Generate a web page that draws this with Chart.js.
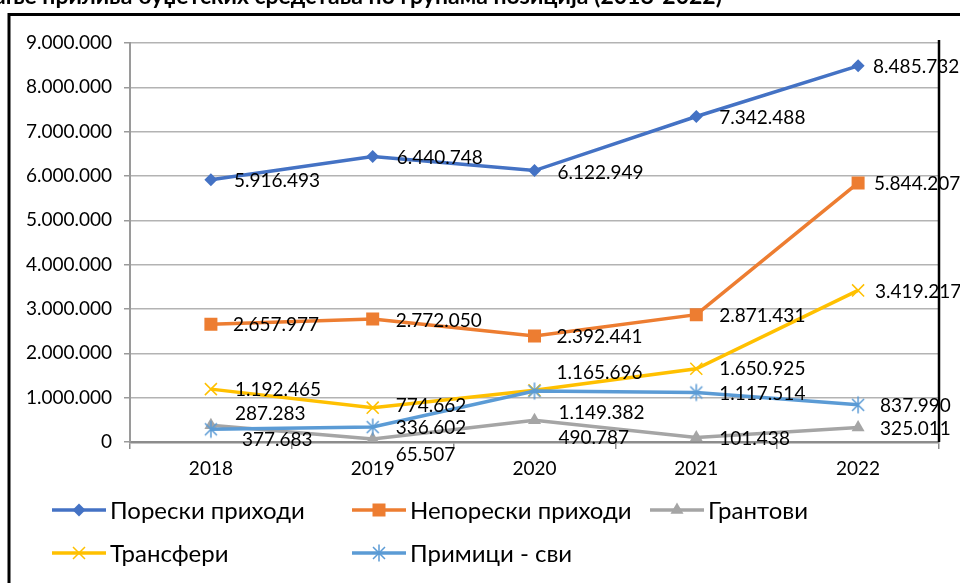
<!DOCTYPE html>
<html lang="sr">
<head>
    <meta charset="UTF-8">
    <title>Кретање прилива буџетских средстава</title>
    <script src="https://cdn.jsdelivr.net/npm/chart.js"></script>
    <style>
        html, body {
            margin: 0;
            padding: 0;
            background: #ffffff;
            overflow: hidden;
        }
        .wrap {
            position: relative;
            width: 960px;
            height: 583px;
        }
    </style>
</head>
<body>
    <div class="wrap">
        <canvas id="trendChart"></canvas>
    </div>
    <script>
        // data
        const years = ['2018', '2019', '2020', '2021', '2022'];
        const seriesNames = ['Порески приходи', 'Непорески приходи', 'Грантови', 'Трансфери', 'Примици - сви'];
        const poreski = [5916493, 6440748, 6122949, 7342488, 8485732];
        const neporeski = [2657977, 2772050, 2392441, 2871431, 5844207];
        const grantovi = [377683, 65507, 490787, 101438, 325011];
        const transferi = [1192465, 774662, 1165696, 1650925, 3419217];
        const primici = [287283, 336602, 1149382, 1117514, 837990];
        const yMin = 0;
        const yMax = 9000000;
        const yStep = 1000000;
        const titleText = 'Кретање прилива буџетских средстава по групама позиција (2018-2022)';

        const FONT = 'Lato, "Noto Sans", sans-serif';
        const colors = ['#4472C4', '#ED7D31', '#A5A5A5', '#FFC000', '#5B9BD5'];

        // where each value label sits relative to its point (dx, dy)
        const labelOffsets = [
            [[23, 1], [24, 1], [23, 2], [23, 1], [15, 1]],
            [[22, 1], [23, 2], [22, 1], [23, 1], [16, 1]],
            [[31, 15], [23, 16], [24, 18], [23, 1], [22, 1]],
            [[24, 1], [23, -2], [22, -17], [23, 0], [17, 1]],
            [[24, -15], [23, 1], [24, 22], [23, 1], [22, 1]]
        ];

        function fmt(v) {
            return String(v).replace(/\B(?=(\d{3})+(?!\d))/g, '.');
        }

        // Excel-like star marker: X plus vertical bar
        function starImage(color) {
            const c = document.createElement('canvas');
            c.width = 20; c.height = 20;
            const g = c.getContext('2d');
            g.strokeStyle = color;
            g.lineWidth = 1.5;
            g.beginPath();
            g.moveTo(4, 4); g.lineTo(16, 16);
            g.moveTo(16, 4); g.lineTo(4, 16);
            g.moveTo(10, 1.5); g.lineTo(10, 18.5);
            g.stroke();
            return c;
        }
        const star = starImage(colors[4]);

        function drawMarker(ctx, idx, x, y) {
            const col = colors[idx];
            ctx.save();
            ctx.fillStyle = col;
            ctx.strokeStyle = col;
            ctx.beginPath();
            if (idx === 0) {
                ctx.moveTo(x, y - 6.5); ctx.lineTo(x + 6.5, y); ctx.lineTo(x, y + 6.5); ctx.lineTo(x - 6.5, y);
                ctx.closePath(); ctx.fill();
            } else if (idx === 1) {
                ctx.rect(x - 6.5, y - 6.5, 13, 13); ctx.fill();
            } else if (idx === 2) {
                ctx.moveTo(x, y - 7.5); ctx.lineTo(x + 6.5, y + 3.75); ctx.lineTo(x - 6.5, y + 3.75);
                ctx.closePath(); ctx.fill();
            } else if (idx === 3) {
                ctx.lineWidth = 1.5;
                ctx.moveTo(x - 6, y - 6); ctx.lineTo(x + 6, y + 6);
                ctx.moveTo(x + 6, y - 6); ctx.lineTo(x - 6, y + 6);
                ctx.stroke();
            } else {
                ctx.drawImage(star, x - 10, y - 10);
            }
            ctx.restore();
        }

        const frame = {
            id: 'frame',
            beforeDraw(chart) {
                const ctx = chart.ctx;
                ctx.save();
                ctx.fillStyle = '#ffffff';
                ctx.fillRect(0, 0, chart.width, chart.height);
                ctx.restore();
            },
            afterDraw(chart) {
                const ctx = chart.ctx;
                const a = chart.chartArea;
                ctx.save();
                // plot area right edge
                ctx.strokeStyle = '#000000';
                ctx.lineWidth = 2.5;
                ctx.beginPath();
                ctx.moveTo(a.right, a.top - 3);
                ctx.lineTo(a.right, a.bottom);
                ctx.stroke();
                // outer chart border
                ctx.lineWidth = 3;
                ctx.strokeRect(9, 14.5, 2000, 2000);
                // title (mostly cut off at the top)
                ctx.fillStyle = '#000000';
                ctx.font = 'bold 23px ' + FONT;
                ctx.textAlign = 'right';
                ctx.textBaseline = 'alphabetic';
                ctx.fillText(titleText, 722, 4);
                // legend
                const slots = [[52, 510], [352, 510], [650, 510], [52, 553], [352, 553]];
                ctx.font = '24px ' + FONT;
                ctx.textAlign = 'left';
                ctx.textBaseline = 'middle';
                seriesNames.forEach((name, i) => {
                    const [x, y] = slots[i];
                    ctx.strokeStyle = colors[i];
                    ctx.lineWidth = 3.5;
                    ctx.beginPath();
                    ctx.moveTo(x, y);
                    ctx.lineTo(x + 54, y);
                    ctx.stroke();
                    drawMarker(ctx, i, x + 27, y);
                    ctx.fillStyle = '#000000';
                    ctx.fillText(name, x + 58, y + 1);
                });
                ctx.restore();
            }
        };

        const valueLabels = {
            id: 'valueLabels',
            afterDatasetsDraw(chart) {
                const ctx = chart.ctx;
                ctx.save();
                ctx.font = '19px ' + FONT;
                ctx.fillStyle = '#000000';
                ctx.textAlign = 'left';
                ctx.textBaseline = 'middle';
                chart.data.datasets.forEach((ds, i) => {
                    chart.getDatasetMeta(i).data.forEach((pt, j) => {
                        const [dx, dy] = labelOffsets[i][j];
                        ctx.fillText(fmt(ds.data[j]), pt.x + dx, pt.y + dy);
                    });
                });
                ctx.restore();
            }
        };

        const seriesData = [poreski, neporeski, grantovi, transferi, primici];
        const pointStyles = ['rectRot', 'rect', 'triangle', 'crossRot', star];
        const pointRadii = [6.5, 9.2, 7.5, 8.5, 10];

        function drawChart() {
            const ctx = document.getElementById('trendChart').getContext('2d');
            new Chart(ctx, {
                type: 'line',
                data: {
                    labels: years,
                    datasets: seriesData.map((values, i) => ({
                        label: seriesNames[i],
                        data: values,
                        borderColor: colors[i],
                        backgroundColor: colors[i],
                        borderWidth: 3.5,
                        tension: 0,
                        pointStyle: pointStyles[i],
                        pointRadius: pointRadii[i],
                        pointBorderWidth: (i === 3) ? 1.5 : 0,
                        pointBorderColor: colors[i],
                        pointBackgroundColor: colors[i],
                        order: 4 - i
                    }))
                },
                options: {
                    responsive: true,
                    maintainAspectRatio: false,
                    animation: false,
                    layout: {
                        padding: { top: 43, right: 21, bottom: 101, left: 0 }
                    },
                    plugins: {
                        legend: { display: false },
                        title: { display: false },
                        tooltip: { enabled: false }
                    },
                    scales: {
                        x: {
                            offset: true,
                            afterFit(scale) { scale.height = 40; },
                            grid: {
                                offset: true,
                                drawOnChartArea: false,
                                drawTicks: true,
                                tickLength: 7,
                                color: '#8c8c8c',
                                lineWidth: 1.5
                            },
                            border: { display: true, color: '#8c8c8c', width: 2.5 },
                            ticks: {
                                color: '#000000',
                                padding: 8,
                                maxRotation: 0,
                                font: { family: FONT, size: 19 }
                            }
                        },
                        y: {
                            min: yMin,
                            max: yMax,
                            afterFit(scale) { scale.width = 130; },
                            grid: {
                                color: '#b3b3b3',
                                lineWidth: 1.5,
                                drawTicks: true,
                                tickLength: 6,
                                tickColor: '#9a9a9a'
                            },
                            border: { display: true, color: '#9a9a9a', width: 2 },
                            ticks: {
                                stepSize: yStep,
                                color: '#000000',
                                padding: 12,
                                font: { family: FONT, size: 19 },
                                callback: (v) => fmt(v)
                            }
                        }
                    }
                },
                plugins: [frame, valueLabels]
            });
        }

        if (document.fonts && document.fonts.load) {
            Promise.all([
                document.fonts.load('19px Lato'),
                document.fonts.load('24px "Noto Sans"')
            ]).then(drawChart, drawChart);
        } else {
            drawChart();
        }
    </script>
</body>
</html>
